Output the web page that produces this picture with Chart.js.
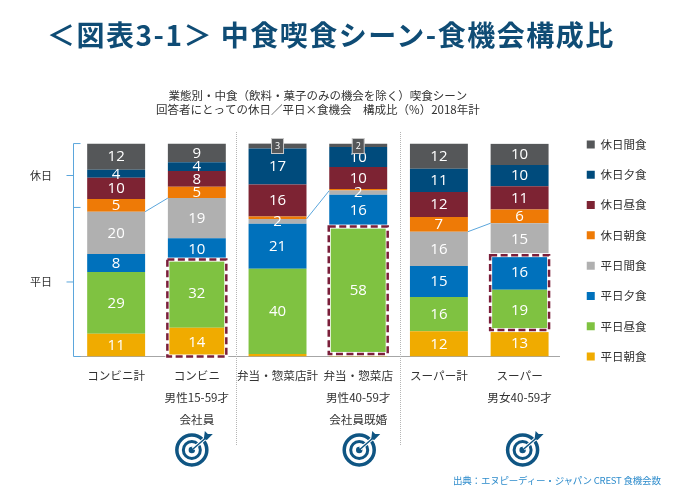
<!DOCTYPE html>
<html lang="ja">

<head>
    <meta charset="UTF-8">
    <title>中食喫食シーン-食機会構成比</title>
    <script src="https://cdn.jsdelivr.net/npm/chart.js"></script>
    <style>
        body { margin: 0; background: #fff; }
        .page { position: relative; width: 680px; height: 501px; overflow: hidden; }
        canvas { position: absolute; left: 0; top: 0; }
        h1 {
            position: absolute; left: 47px; top: 14px; margin: 0;
            font: bold 28px "Noto Sans CJK JP", sans-serif; line-height: 40px; letter-spacing: 1.5px;
            color: #0f4c75; white-space: nowrap;
        }
        .source {
            position: absolute; left: 453px; top: 473px; margin: 0;
            font: 9.5px "Noto Sans CJK JP", sans-serif; line-height: 15px; letter-spacing: -0.2px;
            color: #2e8ccc; white-space: nowrap;
        }
    </style>
</head>

<body>
    <div class="page">
        <canvas id="myChart" width="680" height="501"></canvas>
        <h1>＜図表3-1＞ 中食喫食シーン-食機会構成比</h1>
        <p class="source">出典：エヌピーディー・ジャパン CREST 食機会数</p>
    </div>

    <script>
        // Data
        const categories = [
            'コンビニ計',
            ['コンビニ', '男性15-59才', '会社員'],
            '弁当・惣菜店計',
            ['弁当・惣菜店', '男性40-59才', '会社員既婚'],
            'スーパー計',
            ['スーパー', '男女40-59才']
        ];
        const subtitleLines = ['業態別・中食（飲料・菓子のみの機会を除く）喫食シーン', '回答者にとっての休日／平日×食機会　構成比（%）2018年計'];

        // bar heights (bottom series first)
        const heibiAsa = [10.7, 13.5, 1.2, 1.2, 11.8, 12.4];
        const heibiHiru = [29.0, 32.0, 40.0, 59.8, 16.1, 18.9];
        const heibiYu = [8.4, 10.0, 21.1, 15.0, 14.6, 16.3];
        const heibiKan = [19.9, 18.9, 2.3, 1.9, 16.1, 15.0];
        const kyujitsuAsa = [6.0, 5.3, 1.2, 0.8, 6.9, 6.4];
        const kyujitsuHiru = [9.9, 7.4, 15.0, 10.3, 11.7, 10.9];
        const kyujitsuYu = [3.8, 4.1, 16.9, 9.4, 11.0, 10.0];
        const kyujitsuKan = [12.3, 8.8, 2.4, 1.6, 11.8, 10.0];

        // numbers printed on the bars
        const heibiAsaText = [11, 14, null, null, 12, 13];
        const heibiHiruText = [29, 32, 40, 58, 16, 19];
        const heibiYuText = [8, 10, 21, 16, 15, 16];
        const heibiKanText = [20, 19, 2, 2, 16, 15];
        const kyujitsuAsaText = [5, 5, null, null, 7, 6];
        const kyujitsuHiruText = [10, 8, 16, 10, 12, 11];
        const kyujitsuYuText = [4, 4, 17, 10, 11, 10];
        const kyujitsuKanText = [12, 9, 3, 2, 12, 10];

        const seriesNames = ['平日朝食', '平日昼食', '平日夕食', '平日間食', '休日朝食', '休日昼食', '休日夕食', '休日間食'];
        const seriesColors = ['#f0ab00', '#7fc241', '#0071bc', '#b0b0b0', '#ee7a06', '#7d2333', '#004b7c', '#555759'];
        const seriesValues = [heibiAsa, heibiHiru, heibiYu, heibiKan, kyujitsuAsa, kyujitsuHiru, kyujitsuYu, kyujitsuKan];
        const seriesText = [heibiAsaText, heibiHiruText, heibiYuText, heibiKanText, kyujitsuAsaText, kyujitsuHiruText, kyujitsuYuText, kyujitsuKanText];

        // [bar index, first series, last series] of the dashed boxes
        const highlights = [[1, 0, 1], [3, 1, 1], [5, 1, 2]];
        // bars that get a target icon, and how far the icon sits from the bar centre
        const targetBars = [1, 3, 5];
        const targetShift = [-5, 1, 3];
        // bracket on the left: 休日 from 100 to 70, 平日 from 70 to 0
        const bracketStops = [100, 70, 0];

        const BLUE = '#5ba6dc';
        const FONT = '"Noto Sans CJK JP", sans-serif';

        // Everything Chart.js has no option for
        const extras = {
            id: 'extras',
            afterDatasetsDraw(chart) {
                const ctx = chart.ctx;
                const x = chart.scales.x;
                const y = chart.scales.y;
                const seg = (s, i) => chart.getDatasetMeta(s).data[i];

                ctx.save();

                // numbers on the segments
                ctx.textAlign = 'center';
                ctx.textBaseline = 'middle';
                seriesText.forEach((texts, s) => {
                    texts.forEach((t, i) => {
                        if (t === null) return;
                        const el = seg(s, i);
                        const cy = (el.y + el.base) / 2;
                        if (seriesValues[s][i] < 3 && s === 7) {
                            // tag for the very thin top segments
                            ctx.fillStyle = '#555759';
                            ctx.strokeStyle = '#c8c8c8';
                            ctx.lineWidth = 1;
                            ctx.fillRect(el.x - 6, 138.5, 12, 15);
                            ctx.strokeRect(el.x - 6, 138.5, 12, 15);
                            ctx.fillStyle = '#fff';
                            ctx.font = '9px "Open Sans"';
                            ctx.fillText(t, el.x, 146);
                        } else {
                            ctx.fillStyle = '#fff';
                            ctx.font = '15px "Open Sans"';
                            ctx.fillText(t, el.x, cy + 0.5);
                        }
                    });
                });

                // lines from the top of weekdays in one bar to the next
                ctx.strokeStyle = BLUE;
                ctx.lineWidth = 1;
                [0, 2, 4].forEach(i => {
                    const a = seg(3, i);
                    const b = seg(3, i + 1);
                    ctx.beginPath();
                    ctx.moveTo(a.x + a.width / 2, a.y);
                    ctx.lineTo(b.x - b.width / 2, b.y);
                    ctx.stroke();
                });

                // bracket
                const bx = 73.5;
                ctx.beginPath();
                ctx.moveTo(bx + 7, y.getPixelForValue(100));
                ctx.lineTo(bx, y.getPixelForValue(100));
                ctx.lineTo(bx, y.getPixelForValue(0));
                ctx.lineTo(bx + 7, y.getPixelForValue(0));
                ctx.moveTo(bx, y.getPixelForValue(70));
                ctx.lineTo(bx + 7, y.getPixelForValue(70));
                const names = ['休日', '平日'];
                names.forEach((n, k) => {
                    const my = (y.getPixelForValue(bracketStops[k]) + y.getPixelForValue(bracketStops[k + 1])) / 2;
                    ctx.moveTo(bx - 7, my);
                    ctx.lineTo(bx, my);
                    ctx.fillStyle = '#333';
                    ctx.font = '11px ' + FONT;
                    ctx.fillText(n, 41, my);
                });
                ctx.stroke();

                // dotted separators
                ctx.strokeStyle = '#b5b5b5';
                ctx.setLineDash([1, 1]);
                [1.48, 3.52].forEach(v => {
                    const sx = Math.round(x.getPixelForValue(v)) + 0.5;
                    ctx.beginPath();
                    ctx.moveTo(sx, 132);
                    ctx.lineTo(sx, 446);
                    ctx.stroke();
                });
                ctx.setLineDash([]);

                // dashed boxes
                highlights.forEach(h => {
                    const bottom = seg(h[1], h[0]);
                    const top = seg(h[2], h[0]);
                    const left = bottom.x - bottom.width / 2;
                    const bw = bottom.width;
                    const rx = left - 0.5;
                    const ry = top.y;
                    const rw = bw + 1;
                    const rh = bottom.base - top.y;
                    ctx.strokeStyle = '#fff';
                    ctx.lineWidth = 4;
                    ctx.strokeRect(rx, ry, rw, rh);
                    ctx.strokeStyle = '#7b1f3a';
                    ctx.lineWidth = 2.5;
                    ctx.setLineDash([7, 3.5]);
                    ctx.strokeRect(rx, ry, rw, rh);
                    ctx.setLineDash([]);
                });

                // target icons
                targetBars.forEach((b, k) => {
                    drawTarget(ctx, x.getPixelForValue(b) + targetShift[k], 450);
                });

                ctx.restore();
            }
        };

        function drawTarget(ctx, cx, cy) {
            const c = '#0f5583';
            ctx.strokeStyle = c;
            ctx.lineWidth = 3.5;
            ctx.beginPath();
            ctx.arc(cx, cy, 15, 0, Math.PI * 2);
            ctx.stroke();
            ctx.lineWidth = 3;
            ctx.beginPath();
            ctx.arc(cx, cy, 8.5, 0, Math.PI * 2);
            ctx.stroke();
            ctx.fillStyle = c;
            ctx.beginPath();
            ctx.arc(cx, cy, 3.2, 0, Math.PI * 2);
            ctx.fill();
            // arrow
            ctx.strokeStyle = '#fff';
            ctx.lineWidth = 3.5;
            ctx.beginPath();
            ctx.moveTo(cx + 1, cy - 1);
            ctx.lineTo(cx + 15, cy - 13);
            ctx.stroke();
            ctx.strokeStyle = c;
            ctx.lineWidth = 1.5;
            ctx.beginPath();
            ctx.moveTo(cx, cy);
            ctx.lineTo(cx + 15, cy - 13);
            ctx.stroke();
            ctx.beginPath();
            ctx.moveTo(cx + 12, cy - 11);
            ctx.lineTo(cx + 13, cy - 19);
            ctx.lineTo(cx + 16, cy - 16);
            ctx.lineTo(cx + 21, cy - 16);
            ctx.lineTo(cx + 15, cy - 10);
            ctx.closePath();
            ctx.fill();
        }

        const datasets = seriesNames.map((name, s) => ({
            label: name,
            data: seriesValues[s],
            backgroundColor: seriesColors[s],
            borderWidth: 0,
            barPercentage: 0.718,
            categoryPercentage: 1
        }));

        new Chart(document.getElementById('myChart'), {
            type: 'bar',
            data: { labels: categories, datasets: datasets },
            plugins: [extras],
            options: {
                responsive: false,
                animation: false,
                layout: { padding: { left: 75.8, right: 23.5, top: 0, bottom: 0 } },
                scales: {
                    x: {
                        stacked: true,
                        grid: { display: false, drawTicks: false },
                        border: { color: '#a6a6a6', width: 1 },
                        ticks: {
                            autoSkip: false,
                            maxRotation: 0,
                            padding: 8,
                            color: '#333',
                            font: { family: '"Noto Sans CJK JP"', size: 11.6, lineHeight: 1.9 }
                        },
                        afterFit(scale) { scale.height = 144.5; }
                    },
                    y: {
                        stacked: true,
                        display: false,
                        min: 0,
                        max: 100
                    },
                    // only keeps the legend clear of the plot
                    spacer: {
                        axis: 'y',
                        position: 'right',
                        grid: { display: false },
                        border: { display: false },
                        ticks: { display: false },
                        afterFit(scale) { scale.width = 8; }
                    }
                },
                plugins: {
                    title: {
                        display: true,
                        fullSize: false,
                        text: subtitleLines,
                        color: '#333',
                        font: { family: '"Noto Sans CJK JP"', size: 11.5, weight: 'normal', lineHeight: 1.22 },
                        padding: { top: 89, bottom: 26.5 }
                    },
                    legend: {
                        position: 'right',
                        reverse: true,
                        labels: {
                            boxWidth: 8,
                            boxHeight: 8,
                            padding: 18.8,
                            color: '#333',
                            font: { family: '"Noto Sans CJK JP"', size: 11.5 }
                        }
                    },
                    tooltip: { enabled: false }
                }
            }
        });
    </script>
</body>

</html>
